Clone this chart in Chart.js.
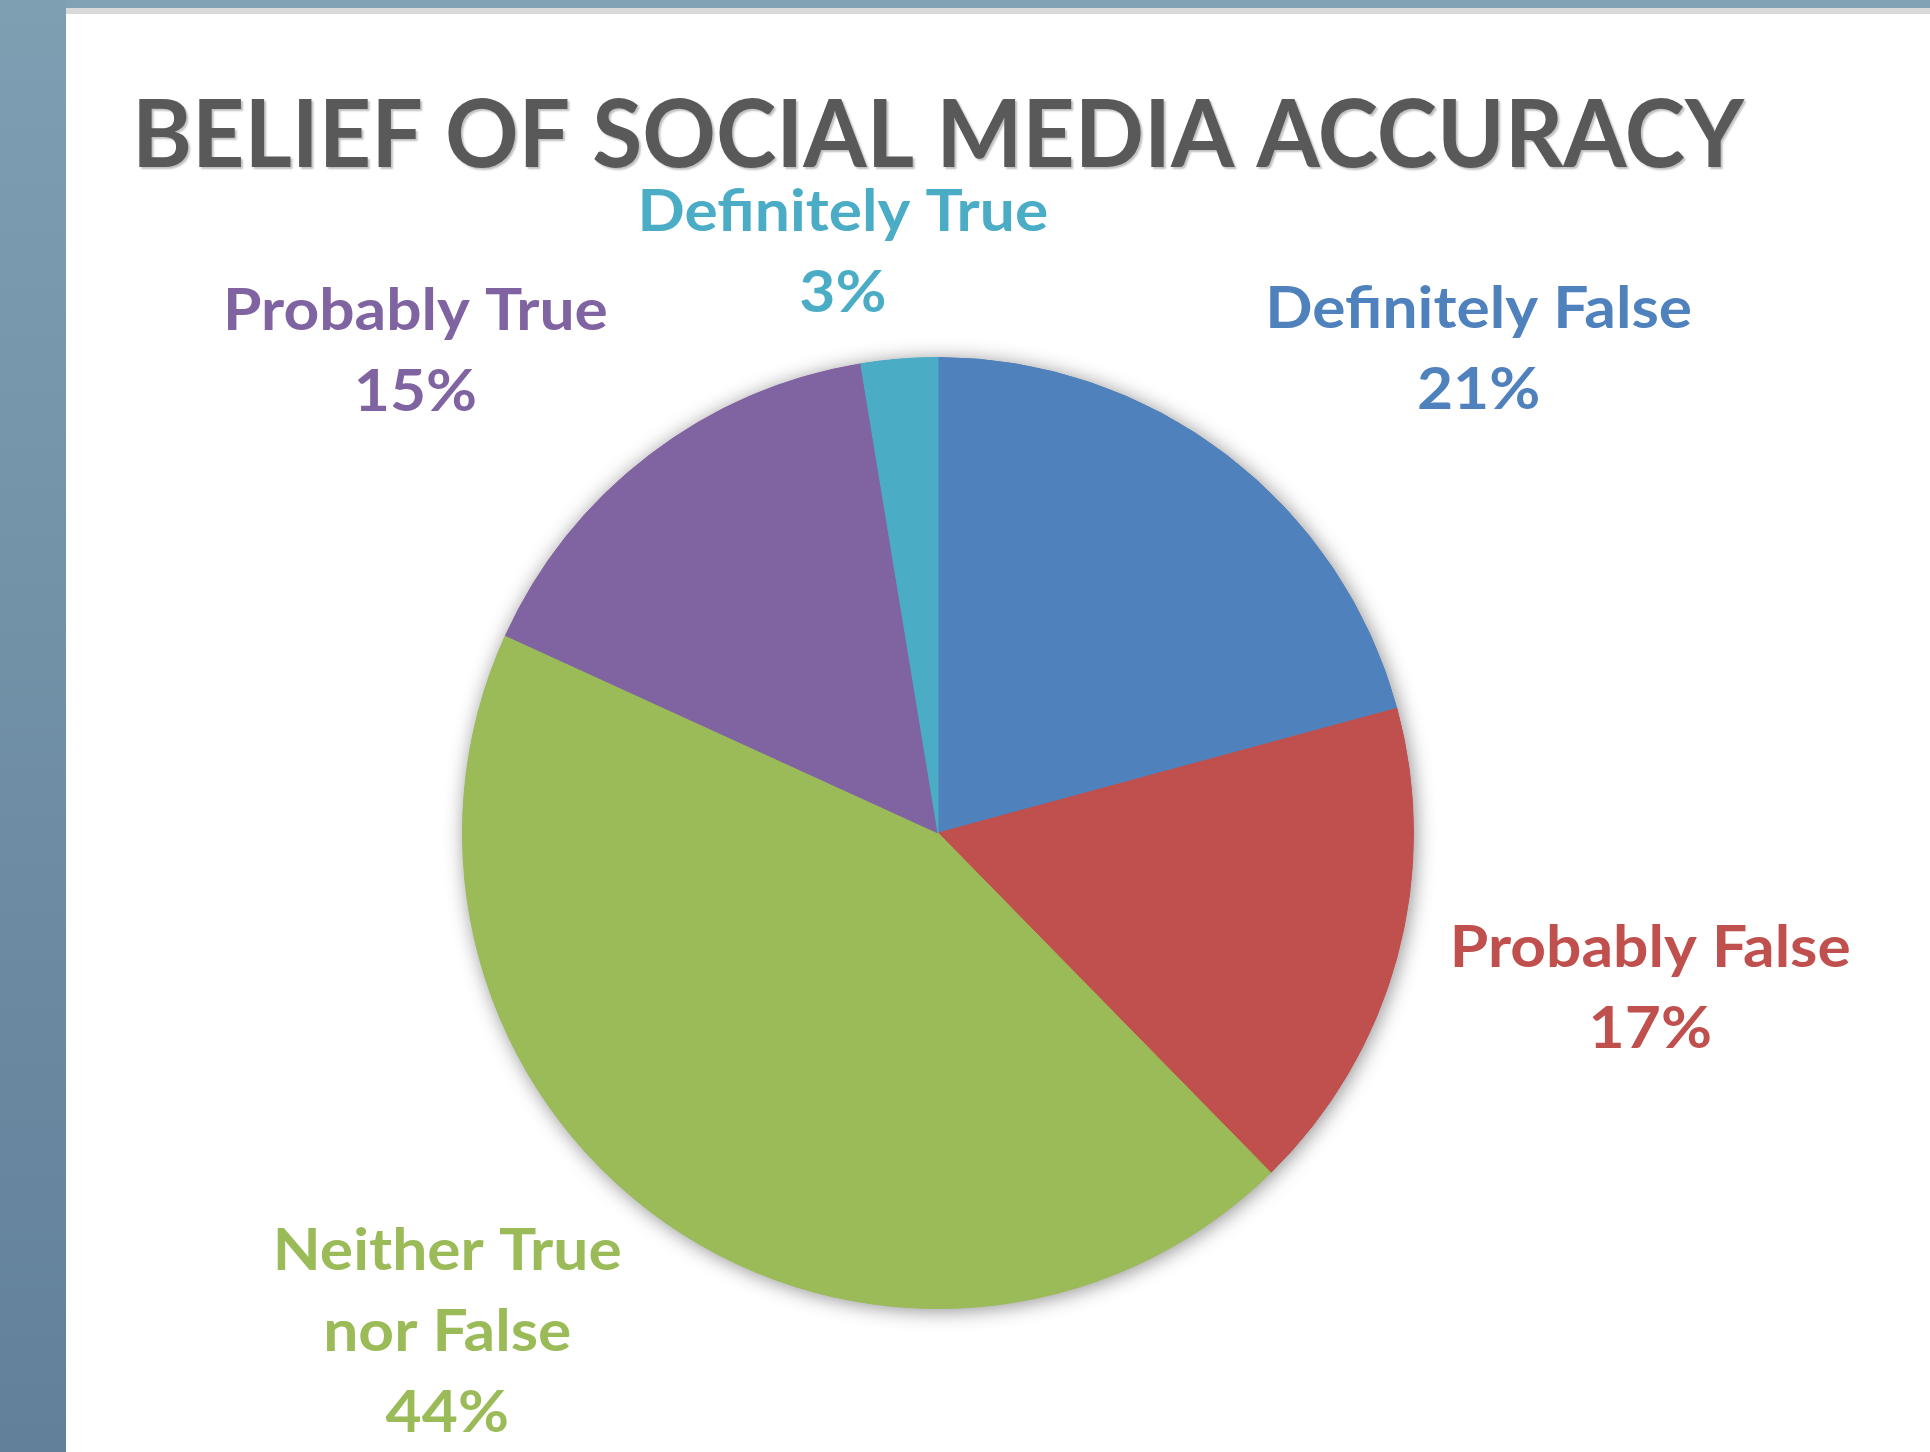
<!DOCTYPE html>
<html>
<head>
<meta charset="utf-8">
<title>Belief of Social Media Accuracy</title>
<script src="https://cdn.jsdelivr.net/npm/chart.js@4.4.1/dist/chart.umd.min.js"></script>
<style>
  html, body { margin: 0; padding: 0; background: #fff; overflow: hidden; }
  #frame-top { position: absolute; left: 0; top: 0; width: 1930px; height: 8px; background: #80a2b4; }
  #frame-line { position: absolute; left: 0; top: 8px; width: 1930px; height: 6px; background: #d9d9d9; }
  #frame-left { position: absolute; left: 0; top: 0; width: 66px; height: 1452px; background: linear-gradient(#7e9fb2, #62809a); }
  #chart { position: absolute; left: 0; top: 0; }
</style>
</head>
<body>
<div id="frame-top"></div>
<div id="frame-line"></div>
<div id="frame-left"></div>
<canvas id="chart" width="1930" height="1452"></canvas>
<script>
const chartTitle = 'BELIEF OF SOCIAL MEDIA ACCURACY';
const categories = ['Definitely False', 'Probably False', 'Neither True nor False', 'Probably True', 'Definitely True'];
const labelLines = [['Definitely False'], ['Probably False'], ['Neither True', 'nor False'], ['Probably True'], ['Definitely True']];
// slice sizes; labels are the percentages printed on the chart
const responses = [16, 13, 34, 12, 2];
const labelPercents = [21, 17, 44, 15, 3];
const sliceColors = ['#4f81bd', '#c0504d', '#9bbb59', '#8064a2', '#4bacc6'];

const FONT = 'Lato, "Open Sans", sans-serif';

// soft shadow under the whole pie, drawn once so slices don't shade each other
const pieShadow = {
    id: 'pieShadow',
    beforeDatasetsDraw(chart) {
        const arc = chart.getDatasetMeta(0).data[0];
        if (!arc) return;
        const ctx = chart.ctx;
        ctx.save();
        ctx.shadowColor = 'rgba(0,0,0,0.45)';
        ctx.shadowBlur = 20;
        ctx.shadowOffsetX = 2;
        ctx.shadowOffsetY = 2;
        ctx.beginPath();
        ctx.arc(arc.x, arc.y, arc.outerRadius, 0, Math.PI * 2);
        ctx.fillStyle = '#8a8a8a';
        ctx.fill();
        ctx.restore();
    }
};

// condensed text, Calibri-like widths
function drawFitted(ctx, text, x, y, scaleX) {
    ctx.save();
    ctx.translate(x, y);
    ctx.scale(scaleX, 1);
    ctx.fillText(text, 0, 0);
    ctx.restore();
}

const titleAndLabels = {
    id: 'titleAndLabels',
    afterDatasetsDraw(chart) {
        const ctx = chart.ctx;
        const meta = chart.getDatasetMeta(0);
        const first = meta.data[0];
        const cx = first.x, cy = first.y, r = first.outerRadius;

        // title
        ctx.save();
        ctx.font = '700 93px ' + FONT;
        ctx.textAlign = 'center';
        ctx.textBaseline = 'alphabetic';
        const tScale = 1612 / ctx.measureText(chartTitle).width;
        ctx.shadowColor = 'rgba(0,0,0,0.25)';
        ctx.shadowBlur = 2;
        ctx.shadowOffsetX = 2;
        ctx.shadowOffsetY = 2;
        ctx.fillStyle = '#595959';
        drawFitted(ctx, chartTitle, cx, cy - r - 191, tScale);
        ctx.restore();

        // data labels, placed by hand like the original, relative to the pie
        const spots = [[1.137, -1.063], [1.498, 0.282], [-1.032, 0.918], [-1.099, -1.057], [-0.200, -1.267]];
        ctx.save();
        ctx.font = '700 58px ' + FONT;
        ctx.textAlign = 'center';
        ctx.textBaseline = 'alphabetic';
        const lScale = 401 / ctx.measureText('Probably False').width;
        const lineGap = 81;
        meta.data.forEach((el, i) => {
            const x = cx + spots[i][0] * r;
            const y = cy + spots[i][1] * r;
            ctx.fillStyle = sliceColors[i];
            const lines = labelLines[i].concat([labelPercents[i] + '%']);
            lines.forEach((line, k) => {
                drawFitted(ctx, line, x, y + k * lineGap, lScale);
            });
        });
        ctx.restore();
    }
};

const ctx = document.getElementById('chart').getContext('2d');
new Chart(ctx, {
    type: 'pie',
    data: {
        labels: categories,
        datasets: [{
            data: responses,
            backgroundColor: sliceColors,
            borderColor: sliceColors,
            borderWidth: 1,
            hoverOffset: 0
        }]
    },
    options: {
        responsive: false,
        animation: false,
        layout: {
            padding: { left: 462, top: 357, right: 516, bottom: 143 }
        },
        plugins: {
            legend: { display: false },
            title: { display: false },
            tooltip: { enabled: false }
        }
    },
    plugins: [pieShadow, titleAndLabels]
});
</script>
</body>
</html>
